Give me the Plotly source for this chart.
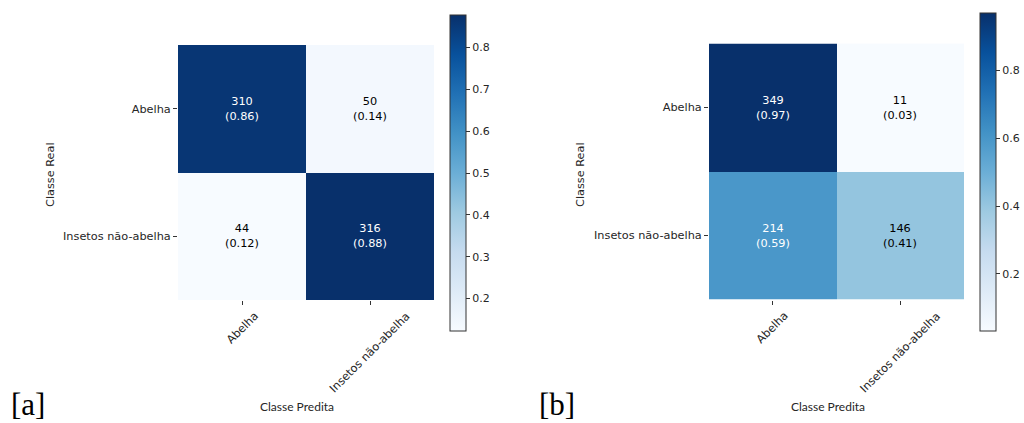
import numpy as np
import plotly.graph_objects as go

classes = ["Abelha", "Insetos não-abelha"]
counts_a = [[310, 50], [44, 316]]
counts_b = [[349, 11], [214, 146]]
panel_labels = ["[a]", "[b]"]
x_title = "Classe Predita"
y_title = "Classe Real"

blues = [[0.0, "rgb(247,251,255)"], [0.125, "rgb(222,235,247)"], [0.25, "rgb(198,219,239)"],
         [0.375, "rgb(158,202,225)"], [0.5, "rgb(107,174,214)"], [0.625, "rgb(66,146,198)"],
         [0.75, "rgb(33,113,181)"], [0.875, "rgb(8,81,156)"], [1.0, "rgb(8,48,107)"]]

W, H = 1024, 423
def px_x(v): return v / W
def px_y(v): return 1 - v / H

FONT = "DejaVu Sans"
FS = 11.3

fig = go.Figure()

panels = [
    dict(counts=counts_a, xd=(178, 434), yd=(45, 300), cb=(450, 15, 331), dtick=0.1,
         xa="x", ya="y", ylab_x=50, xlab_x=297, tag_x=9),
    dict(counts=counts_b, xd=(709, 964), yd=(43.5, 299.5), cb=(980, 13.5, 331), dtick=0.2,
         xa="x2", ya="y2", ylab_x=580, xlab_x=828, tag_x=537),
]

annotations = []
for i, p in enumerate(panels):
    cm = np.array(p["counts"], dtype=float)
    norm = cm / cm.sum(axis=1, keepdims=True)
    zmin, zmax = norm.min(), norm.max()
    cbx, cbt, cbb = p["cb"]
    fig.add_trace(go.Heatmap(
        z=norm, x=classes, y=classes, xaxis=p["xa"], yaxis=p["ya"],
        colorscale=blues, zmin=zmin, zmax=zmax, hoverinfo="skip",
        colorbar=dict(x=px_x(cbx), xanchor="left", xpad=0, ypad=0, thickness=16,
                      lenmode="pixels", len=cbb - cbt, y=px_y((cbt + cbb) / 2), yanchor="middle",
                      outlinewidth=1, outlinecolor="#333333",
                      ticks="outside", ticklen=4, tickwidth=1, tickcolor="#333333",
                      dtick=p["dtick"], tick0=0, tickformat=".1f",
                      tickfont=dict(family=FONT, size=11, color="#262626")),
    ))
    thresh = zmax / 2
    for r in range(2):
        for c in range(2):
            annotations.append(dict(
                x=classes[c], y=classes[r], xref=p["xa"], yref=p["ya"],
                xanchor="center", yanchor="middle",
                text=f"{int(cm[r, c])}<br>({norm[r, c]:.2f})", showarrow=False,
                font=dict(family=FONT, size=FS, color="white" if norm[r, c] > thresh else "black"),
            ))
    # rotated x tick labels, centred on their ticks
    for c in range(2):
        annotations.append(dict(
            x=classes[c], y=px_y(p["yd"][1] + 7), xref=p["xa"], yref="paper",
            xanchor="center", yanchor="top", textangle=-45,
            text=classes[c], showarrow=False,
            font=dict(family=FONT, size=FS, color="#262626")))
    annotations.append(dict(x=px_x(p["ylab_x"]), y=px_y(175), xref="paper", yref="paper",
                            xanchor="center", yanchor="middle",
                            text=y_title, textangle=-90, showarrow=False,
                            font=dict(family=FONT, size=FS, color="#262626")))
    annotations.append(dict(x=px_x(p["xlab_x"]), y=px_y(406), xref="paper", yref="paper",
                            xanchor="center", yanchor="middle",
                            text=x_title, showarrow=False,
                            font=dict(family="Lato", size=12, color="#262626")))
    annotations.append(dict(x=px_x(p["tag_x"]), y=px_y(424), xref="paper", yref="paper",
                            xanchor="left", yanchor="bottom",
                            text=panel_labels[i], showarrow=False,
                            font=dict(family="Liberation Serif", size=31, color="black")))

    axis_common = dict(ticks="outside", ticklen=4, tickwidth=1, tickcolor="#333333",
                       showgrid=False, zeroline=False, showline=False,
                       tickfont=dict(family=FONT, size=FS, color="#262626"))
    xkey = "xaxis" if i == 0 else "xaxis2"
    ykey = "yaxis" if i == 0 else "yaxis2"
    fig.update_layout(**{
        xkey: dict(domain=[px_x(p["xd"][0]), px_x(p["xd"][1])], anchor=p["ya"],
                   showticklabels=False, **axis_common),
        ykey: dict(domain=[px_y(p["yd"][1]), px_y(p["yd"][0])], anchor=p["xa"],
                   autorange="reversed", **axis_common),
    })

fig.update_layout(width=W, height=H, margin=dict(l=0, r=0, t=0, b=0),
                  paper_bgcolor="white", plot_bgcolor="white",
                  annotations=annotations, showlegend=False)

fig.write_html("out.html")
